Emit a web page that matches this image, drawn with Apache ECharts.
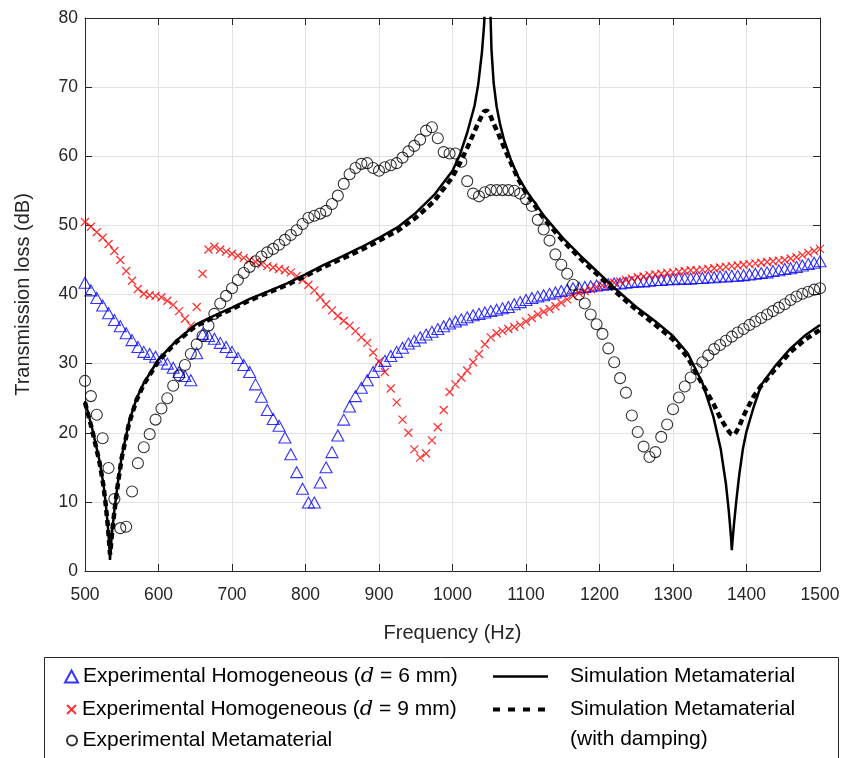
<!DOCTYPE html>
<html>
<head>
<meta charset="utf-8">
<script src="https://cdn.jsdelivr.net/npm/echarts@6/dist/echarts.min.js"></script>
<style>
html,body{margin:0;padding:0;background:#fff;}
#c{width:843px;height:758px;}
</style>
</head>
<body>
<div id="c"></div>
<script>
// Frequency grid of the experimental measurements (Hz)
const freq = [500,508,516,524,532,540,548,556,564,572,580,588,596,604,612,620,628,636,644,652,660,668,676,684,692,700,708,716,724,732,740,748,756,764,772,780,788,796,804,812,820,828,836,844,852,860,868,876,884,892,900,908,916,924,932,940,948,956,964,972,980,988,996,1004,1012,1020,1028,1036,1044,1052,1060,1068,1076,1084,1092,1100,1108,1116,1124,1132,1140,1148,1156,1164,1172,1180,1188,1196,1204,1212,1220,1228,1236,1244,1252,1260,1268,1276,1284,1292,1300,1308,1316,1324,1332,1340,1348,1356,1364,1372,1380,1388,1396,1404,1412,1420,1428,1436,1444,1452,1460,1468,1476,1484,1492,1500];

// Experimental Homogeneous (d = 6 mm), dB
const homog6 = [41.7,40.6,39.5,38.4,37.3,36.3,35.4,34.4,33.4,32.4,31.7,31.4,31.0,30.6,30.0,29.4,28.8,28.2,27.6,31.5,34.3,34.0,33.6,33.0,32.4,31.7,30.8,29.8,28.8,27.0,25.2,23.3,22.0,21.0,19.3,16.9,14.3,11.9,9.9,9.9,12.8,15.0,17.2,19.6,21.9,23.8,25.3,26.5,27.6,28.8,29.7,30.4,31.1,31.7,32.3,32.9,33.3,33.8,34.2,34.6,35.0,35.4,35.8,36.1,36.4,36.7,37.0,37.2,37.4,37.6,37.8,38.0,38.2,38.6,38.9,39.2,39.5,39.7,39.9,40.1,40.3,40.5,40.7,40.9,41.0,41.1,41.2,41.3,41.4,41.5,41.6,41.6,41.7,41.8,41.9,41.9,42.0,42.1,42.1,42.2,42.2,42.3,42.3,42.3,42.4,42.4,42.5,42.5,42.6,42.6,42.7,42.7,42.8,42.9,43.0,43.1,43.2,43.4,43.5,43.7,43.8,44.0,44.2,44.4,44.6,44.8];

// Experimental Homogeneous (d = 9 mm), dB
const homog9 = [50.5,49.8,49.0,48.2,47.3,46.3,45.0,43.4,42.0,40.8,40.1,39.9,39.8,39.6,39.1,38.5,37.6,36.5,35.5,38.2,43.0,46.5,46.9,46.5,46.2,45.9,45.6,45.3,45.0,44.7,44.4,44.1,43.9,43.7,43.5,43.2,42.7,42.1,41.4,40.6,39.6,38.6,37.7,36.9,36.2,35.5,34.7,33.8,33.0,31.6,30.3,28.8,26.4,24.4,21.9,20.0,17.6,16.4,17.0,18.9,20.8,23.3,25.9,27.0,28.0,29.0,30.2,31.4,32.8,33.8,34.4,34.7,35.0,35.3,35.6,36.1,36.6,37.1,37.5,37.9,38.3,38.8,39.3,39.8,40.2,40.5,40.8,41.1,41.3,41.5,41.7,41.9,42.1,42.3,42.5,42.6,42.8,42.9,43.0,43.1,43.2,43.3,43.4,43.5,43.5,43.6,43.7,43.8,43.9,44.0,44.1,44.2,44.3,44.4,44.5,44.6,44.7,44.8,44.9,45.0,45.2,45.4,45.7,46.0,46.3,46.6];

// Experimental Metamaterial, dB
const metaExp = [27.5,25.3,22.6,19.2,14.9,10.4,6.2,6.4,11.5,15.6,17.9,19.8,21.9,23.5,25.0,26.8,28.3,29.8,31.4,32.8,34.0,35.5,37.2,38.7,39.8,40.9,42.1,43.1,44.0,44.8,45.5,46.1,46.6,47.2,47.9,48.6,49.3,50.2,51.1,51.4,51.7,52.1,53.1,54.3,56.0,57.4,58.3,58.9,59.0,58.3,57.9,58.4,58.7,59.0,59.8,60.7,61.5,62.4,63.7,64.2,62.6,60.6,60.4,60.4,59.2,56.4,54.6,54.2,54.8,55.1,55.1,55.1,55.1,55.0,54.6,53.8,52.8,50.8,49.4,47.8,45.8,44.3,43.0,41.4,40.0,38.7,37.1,35.7,34.3,32.2,30.2,27.9,25.8,22.5,20.1,18.0,16.5,17.2,19.4,21.2,23.4,25.1,26.7,28.0,29.2,30.2,31.2,32.1,32.7,33.3,33.9,34.5,35.0,35.6,36.1,36.6,37.1,37.6,38.1,38.6,39.2,39.7,40.1,40.4,40.7,40.9];

// Simulation frequency grid (Hz)
const simFreq = [500,510,520,525,528,531,533,534,535,537,540,545,550,560,570,580,600,625,650,675,700,725,750,775,800,825,850,875,900,925,950,975,1000,1010,1020,1030,1035,1040,1043,1045,1047,1048,1049,1051,1053,1056,1060,1065,1070,1080,1090,1100,1125,1150,1175,1200,1225,1250,1275,1300,1320,1340,1355,1365,1372,1376,1379,1380,1381,1383,1386,1390,1395,1400,1410,1420,1440,1460,1480,1500];

// Simulation Metamaterial, dB
const simMeta = [24.6,20.5,15.8,12.6,10.0,6.6,3.8,1.6,3.2,5.8,8.8,13.0,16.6,21.6,24.9,27.2,30.6,33.4,35.6,36.9,38.1,39.4,40.5,41.6,42.9,44.3,45.5,46.8,48.2,49.7,51.8,54.4,57.9,60.2,63.4,67.3,70.4,75.0,79.0,84.0,95,98,93,83,75.5,70.6,67.2,64.5,62.4,59.3,56.9,55.1,51.3,48.2,45.5,43.0,40.5,38.2,36.2,34.0,31.5,27.2,22.3,17.6,12.6,8.6,4.8,3.0,4.4,6.8,10.0,13.8,17.6,20.2,23.8,26.9,29.8,32.2,34.1,35.6];

// Simulation Metamaterial (with damping), dB
const simMetaDamp = [24.4,20.3,15.6,12.4,9.8,6.6,4.0,2.4,3.4,5.7,8.6,12.8,16.4,21.4,24.7,27.0,30.4,33.2,35.4,36.7,37.9,39.2,40.3,41.4,42.7,44.0,45.2,46.4,47.8,49.2,51.1,53.5,57.0,59.0,61.2,63.6,64.8,65.9,66.5,66.7,66.6,66.5,66.3,66.0,65.5,64.7,63.8,62.6,61.3,58.9,56.6,54.7,50.9,47.8,45.1,42.6,40.1,37.8,35.7,33.5,30.9,27.0,24.2,22.0,20.8,20.2,19.8,19.7,19.6,19.7,20.1,20.9,22.2,23.3,25.3,26.8,29.3,31.7,33.5,34.9];

const names = {
  h6: 'Experimental Homogeneous (d = 6 mm)',
  h9: 'Experimental Homogeneous (d = 9 mm)',
  me: 'Experimental Metamaterial',
  sm: 'Simulation Metamaterial',
  sd: 'Simulation Metamaterial (with damping)'
};

function pairs(xs, ys){ return xs.map((x,i)=>[x, ys[i]]); }

const FONT = '"Liberation Sans", Arial, Helvetica, sans-serif';
const TXT = '#262626';
const crossPath = 'path://M0,0L10,10M10,0L0,10';
const dashIcon = 'path://M0,0h7v4h-7zM15,0h7v4h-7zM30,0h7v4h-7zM45,0h7v4h-7z';

const chart = echarts.init(document.getElementById('c'), null, {renderer:'canvas'});

const LFS = 21;
const legendText = {
  fontFamily: FONT, fontSize: LFS, color: '#000',
  rich: { i: { fontFamily: '"DejaVu Serif", "Liberation Serif", serif', fontStyle: 'italic', fontSize: LFS, color: '#000' } }
};
function fmt(n){
  if (n === names.sd) return 'Simulation Metamaterial';
  return n.replace('(d = ', '({i|d} = ');
}

chart.setOption({
  animation: false,
  backgroundColor: '#fff',
  textStyle: { fontFamily: FONT },
  grid: { left: 85, right: 23, top: 18, bottom: 187, containLabel: false },
  xAxis: [{
    type: 'value', min: 500, max: 1500, interval: 100, position: 'bottom',
    name: 'Frequency (Hz)', nameLocation: 'middle', nameGap: 52,
    nameTextStyle: { fontSize: 20, color: TXT, fontFamily: FONT },
    axisLine: { show: true, onZero: false, lineStyle: { color: TXT, width: 1 } },
    axisTick: { show: true, inside: true, length: 7, lineStyle: { color: TXT } },
    axisLabel: { fontSize: 17.5, color: TXT, margin: 15, fontFamily: FONT, formatter: v => String(v) },
    splitLine: { show: true, lineStyle: { color: '#e2e2e2', width: 1 } }
  },{
    type: 'value', min: 500, max: 1500, interval: 100, position: 'top',
    axisLine: { show: true, onZero: false, lineStyle: { color: TXT, width: 1 } },
    axisTick: { show: true, inside: true, length: 7, lineStyle: { color: TXT } },
    axisLabel: { show: false }, splitLine: { show: false }
  }],
  yAxis: [{
    type: 'value', min: 0, max: 80, interval: 10, position: 'left',
    name: 'Transmission loss (dB)', nameLocation: 'middle', nameGap: 52,
    nameTextStyle: { fontSize: 20, color: TXT, fontFamily: FONT },
    axisLine: { show: true, onZero: false, lineStyle: { color: TXT, width: 1 } },
    axisTick: { show: true, inside: true, length: 7, lineStyle: { color: TXT } },
    axisLabel: { fontSize: 17.5, color: TXT, margin: 7, fontFamily: FONT, formatter: v => String(v) },
    splitLine: { show: true, lineStyle: { color: '#e2e2e2', width: 1 } }
  },{
    type: 'value', min: 0, max: 80, interval: 10, position: 'right',
    axisLine: { show: true, onZero: false, lineStyle: { color: TXT, width: 1 } },
    axisTick: { show: true, inside: true, length: 7, lineStyle: { color: TXT } },
    axisLabel: { show: false }, splitLine: { show: false }
  }],
  legend: [
    { data: [names.h6], left: 64, top: 666, itemWidth: 13, itemHeight: 12, selectedMode: false, textStyle: legendText, formatter: fmt, padding: 0 },
    { data: [names.h9], left: 66, top: 699, itemWidth: 11, itemHeight: 9, selectedMode: false, textStyle: legendText, formatter: fmt, padding: 0 },
    { data: [names.me], left: 66, top: 730, itemWidth: 11, itemHeight: 10, selectedMode: false, textStyle: legendText, formatter: fmt, padding: 0 },
    { data: [{ name: names.sm, icon: 'rect' }], left: 493, top: 666, itemWidth: 55, itemHeight: 2.5, selectedMode: false,
      textStyle: Object.assign({}, legendText, { padding: [0,0,0,17] }), formatter: fmt, padding: 0 },
    { data: [{ name: names.sd, icon: dashIcon }], left: 493, top: 699, itemWidth: 52, itemHeight: 4, selectedMode: false,
      textStyle: Object.assign({}, legendText, { padding: [0,0,0,20] }), formatter: fmt, padding: 0 }
  ],
  graphic: [
    { type: 'rect', shape: { x: 44.5, y: 657.5, width: 794, height: 110 }, style: { fill: 'none', stroke: TXT, lineWidth: 1 }, silent: true },
    { type: 'text', left: 570, top: 729, style: { text: '(with damping)', font: LFS + 'px ' + FONT, fill: '#000' }, silent: true }
  ],
  series: [
    { name: names.h6, type: 'scatter', data: pairs(freq, homog6), symbol: 'triangle', symbolSize: [12, 11],
      itemStyle: { color: 'rgba(0,0,0,0)', borderColor: '#0000ff', borderWidth: 1.1 }, z: 2 },
    { name: names.h9, type: 'scatter', data: pairs(freq, homog9), symbol: crossPath, symbolSize: 8,
      itemStyle: { color: 'rgba(0,0,0,0)', borderColor: '#ff0000', borderWidth: 1.3 }, z: 3 },
    { name: names.me, type: 'scatter', data: pairs(freq, metaExp), symbol: 'circle', symbolSize: 11,
      itemStyle: { color: 'rgba(0,0,0,0)', borderColor: '#000000', borderWidth: 1.1 }, z: 4 },
    { name: names.sm, type: 'line', data: pairs(simFreq, simMeta), showSymbol: false, symbol: 'none', smooth: false, clip: true,
      lineStyle: { color: '#000', width: 2.5 }, itemStyle: { color: '#000' }, z: 5 },
    { name: names.sd, type: 'line', data: pairs(simFreq, simMetaDamp), showSymbol: false, symbol: 'none', smooth: false, clip: true,
      lineStyle: { color: '#000', width: 4.5, type: [6, 4] }, itemStyle: { color: '#000' }, z: 6 }
  ]
});
</script>
</body>
</html>
